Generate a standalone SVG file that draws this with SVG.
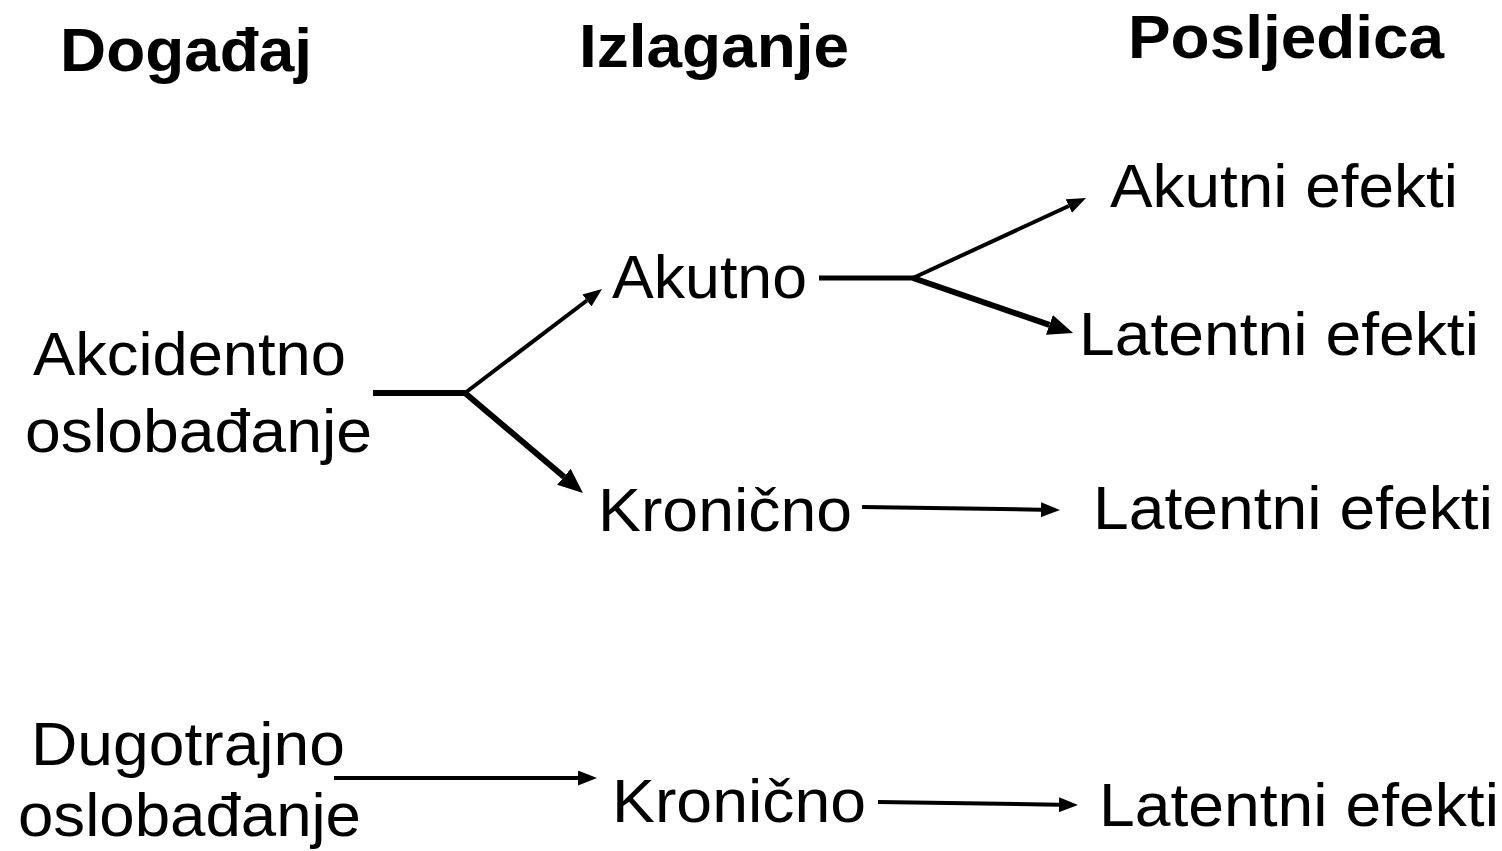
<svg xmlns="http://www.w3.org/2000/svg" width="1502" height="851" viewBox="0 0 1502 851">
<style>
text{font-family:"Liberation Sans",Arial,sans-serif;fill:#000}
.h{font-size:62px;font-weight:bold}
.t{font-size:61px}
.c{stroke:#000;fill:none}
</style>
<defs>
<marker id="as" markerUnits="userSpaceOnUse" markerWidth="19" markerHeight="15" refX="0" refY="7.5" orient="auto"><path d="M0,0 L19,7.5 L0,15 Z" fill="#000"/></marker>
<marker id="al" markerUnits="userSpaceOnUse" markerWidth="25" markerHeight="21" refX="0" refY="10.5" orient="auto"><path d="M0,0 L25,10.5 L0,21 Z" fill="#000"/></marker>
</defs>
<rect width="1502" height="851" fill="#fff"/>
<g id="headers">
<text class="h" x="60" y="71" textLength="252" lengthAdjust="spacingAndGlyphs">Događaj</text>
<text class="h" x="579" y="67" textLength="270" lengthAdjust="spacingAndGlyphs">Izlaganje</text>
<text class="h" x="1128" y="58" textLength="316" lengthAdjust="spacingAndGlyphs">Posljedica</text>
</g>
<g id="akcidentno"><text class="t" x="33" y="375" textLength="313" lengthAdjust="spacingAndGlyphs">Akcidentno</text><text class="t" x="25" y="452" textLength="347" lengthAdjust="spacingAndGlyphs">oslobađanje</text></g>
<g id="akutno"><text class="t" x="612" y="298" textLength="195" lengthAdjust="spacingAndGlyphs">Akutno</text></g>
<g id="kronicno1"><text class="t" x="598" y="531" textLength="254" lengthAdjust="spacingAndGlyphs">Kronično</text></g>
<g id="akutni-efekti"><text class="t" x="1110" y="207" textLength="348" lengthAdjust="spacingAndGlyphs">Akutni efekti</text></g>
<g id="latentni1"><text class="t" x="1079" y="355" textLength="400" lengthAdjust="spacingAndGlyphs">Latentni efekti</text></g>
<g id="latentni2"><text class="t" x="1093" y="529" textLength="400" lengthAdjust="spacingAndGlyphs">Latentni efekti</text></g>
<g id="dugotrajno"><text class="t" x="31" y="765" textLength="314" lengthAdjust="spacingAndGlyphs">Dugotrajno</text><text class="t" x="18" y="836" textLength="343" lengthAdjust="spacingAndGlyphs">oslobađanje</text></g>
<g id="kronicno2"><text class="t" x="612" y="822" textLength="254" lengthAdjust="spacingAndGlyphs">Kronično</text></g>
<g id="latentni3"><text class="t" x="1099" y="826" textLength="400" lengthAdjust="spacingAndGlyphs">Latentni efekti</text></g>
<g id="connectors">
<line class="c" x1="373" y1="393" x2="466" y2="393" stroke-width="6"/>
<line class="c" x1="465" y1="393" x2="586.9" y2="300.5" stroke-width="4" marker-end="url(#as)"/>
<line class="c" x1="465" y1="393" x2="563.9" y2="476.8" stroke-width="6" marker-end="url(#al)"/>
<line class="c" x1="819" y1="278" x2="914" y2="278" stroke-width="5"/>
<line class="c" x1="913" y1="278" x2="1068.8" y2="206" stroke-width="4" marker-end="url(#as)"/>
<line class="c" x1="913" y1="278" x2="1049.4" y2="324.9" stroke-width="6" marker-end="url(#al)"/>
<line class="c" x1="862" y1="507" x2="1041" y2="509.7" stroke-width="4" marker-end="url(#as)"/>
<line class="c" x1="334" y1="778" x2="578" y2="778" stroke-width="4" marker-end="url(#as)"/>
<line class="c" x1="878" y1="802" x2="1059" y2="804.7" stroke-width="4" marker-end="url(#as)"/>
</g>
</svg>
